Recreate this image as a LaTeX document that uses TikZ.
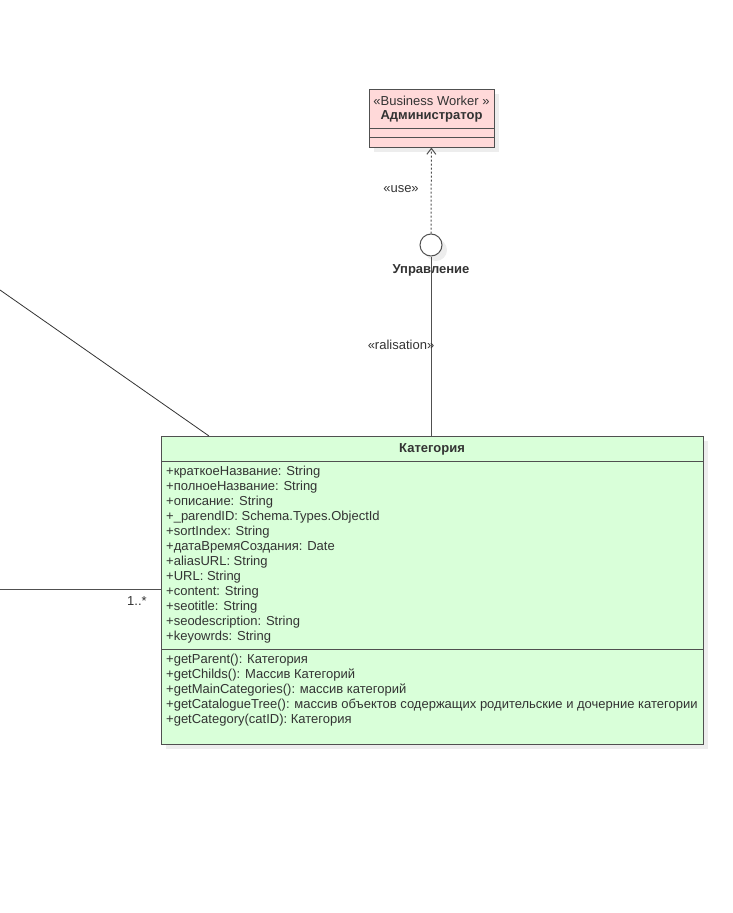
\documentclass[tikz,border=0pt]{standalone}
\usepackage{fontspec}
\setmainfont{Liberation Sans}
\usetikzlibrary{arrows.meta,shadows,positioning}
\definecolor{workerfill}{RGB}{255,217,217}
\definecolor{classfill}{RGB}{217,255,217}
\definecolor{linegray}{RGB}{80,80,80}
\definecolor{textgray}{RGB}{51,51,51}
\tikzset{
    umlbox/.style = {rectangle, draw=linegray, line width=1pt, inner sep=0pt,
        drop shadow={shadow xshift=5pt, shadow yshift=-5pt, fill=black!7, opacity=1}},
    txt/.style = {inner sep=0pt, text=textgray, align=left, font=\fontsize{13}{15}\selectfont},
    boldtxt/.style = {txt, font=\fontsize{13}{15}\selectfont\bfseries},
    conn/.style = {draw=linegray, line width=1pt},
    useedge/.style = {conn, dash pattern=on 2pt off 2pt, -{Straight Barb[length=6pt,width=9pt]}}
}
\begin{document}
\begin{tikzpicture}[x=1pt, y=-1pt]
    \useasboundingbox (0,0) rectangle (733,913);

    % Nodes
    \node[umlbox, fill=workerfill, minimum width=125pt, minimum height=58pt] (admin) at (431.5,118) {};
    \draw[linegray, line width=1pt] (369,128) -- (494,128) (369,137) -- (494,137);
    \node[txt] (adminstereo) at (431.5,101) {«Business Worker »};
    \node[boldtxt] (adminname) at (431.5,116) {Администратор};

    \node[umlbox, circle, fill=white, minimum size=22pt, drop shadow={shadow xshift=3pt, shadow yshift=-3pt, fill=black!7}] (iface) at (431,245) {};
    \node[boldtxt, below=8pt of iface] (ifacename) {Управление};

    \node[umlbox, fill=classfill, minimum width=542pt, minimum height=308pt] (cat) at (432,590) {};
    \draw[linegray, line width=1pt] (161,461) -- (703,461) (161,649) -- (703,649);
    \node[boldtxt] (catname) at (432,449) {Категория};
    \node[txt, anchor=north west] (catattrs) at (166,465.5) {%
        +краткоеНазвание: String\\
        +полноеНазвание: String\\
        +описание: String\\
        +\_parendID: Schema.Types.ObjectId\\
        +sortIndex: String\\
        +датаВремяСоздания: Date\\
        +aliasURL: String\\
        +URL: String\\
        +content: String\\
        +seotitle: String\\
        +seodescription: String\\
        +keyowrds: String};
    \node[txt, anchor=north west] (catops) at (166,653.5) {%
        +getParent(): Категория\\
        +getChilds(): Массив Категорий\\
        +getMainCategories(): массив категорий\\
        +getCatalogueTree(): массив объектов содержащих родительские и дочерние категории\\
        +getCategory(catID): Категория};

    % Connectors
    \draw[useedge] (iface) -- (admin);
    \node[txt] (uselabel) at (401,189) {«use»};
    \draw[conn] (iface) -- (iface |- cat.north);
    \node[txt] (reallabel) at (401,345) {«ralisation»};

    \coordinate (leftup) at (0,290);
    \coordinate (catup) at (209,436);
    \draw[conn, line width=0.8pt, draw=black!80] (leftup) -- (catup);
    \coordinate (leftmid) at (0,589);
    \draw[conn] (leftmid) -- (leftmid -| cat.west);
    \node[txt] (multlabel) at (137,601) {1..*};
\end{tikzpicture}
\end{document}
